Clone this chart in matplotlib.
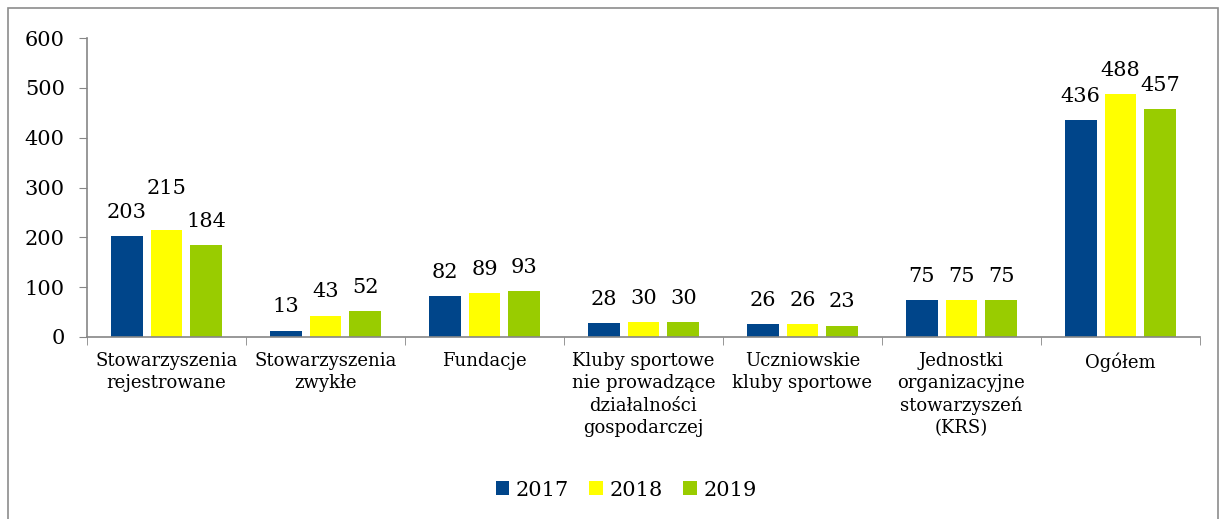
import numpy as np
import matplotlib
matplotlib.use('Agg')
import matplotlib.pyplot as plt
from matplotlib.patches import Rectangle

categories = ['Stowarzyszenia\nrejestrowane', 'Stowarzyszenia\nzwykłe', 'Fundacje',
              'Kluby sportowe\nnie prowadzące\ndziałalności\ngospodarczej',
              'Uczniowskie\nkluby sportowe',
              'Jednostki\norganizacyjne\nstowarzyszeń\n(KRS)', 'Ogółem']
years = ['2017', '2018', '2019']
v2017 = [203, 13, 82, 28, 26, 75, 436]
v2018 = [215, 43, 89, 30, 26, 75, 488]
v2019 = [184, 52, 93, 30, 23, 75, 457]
COLORS = ['#00458A', '#FFFF00', '#99CC00']

plt.rcParams['font.family'] = ['DejaVu Serif']
fig = plt.figure(figsize=(12.26, 5.19), dpi=100)
fig.patches.append(Rectangle((8/1226, -0.1), 1210/1226, 1.1 - 8/519, transform=fig.transFigure,
                             fill=False, edgecolor='#8C8C8C', lw=1.2))
ax = fig.add_axes([87/1226, 1-337/519, (1200-87)/1226, (337-38)/519])

# label raised manually in the original (series, category) -> offset in points
lifted = {(1, 0): 30}

x = np.arange(len(categories))
for i, (vals, c, lb) in enumerate(zip([v2017, v2018, v2019], COLORS, years)):
    pos = x + (i-1)*0.25
    ax.bar(pos, vals, width=0.2, color=c, label=lb, zorder=2)
    for j, (p, v) in enumerate(zip(pos, vals)):
        ax.annotate(str(v), (p, v), xytext=(0, lifted.get((i, j), 17)), textcoords='offset points',
                    ha='center', va='center', fontsize=15)

ax.set_xlim(-0.5, len(categories)-0.5)
ax.set_ylim(0, 600)
ax.set_yticks(range(0, 601, 100))
ax.tick_params(axis='y', labelsize=15, length=6, color='#868686', pad=10)
ax.set_xticks(x)
ax.set_xticklabels(categories, fontsize=13, linespacing=1.3)
ax.tick_params(axis='x', length=0, pad=11)
ax.set_xticks(np.arange(-0.5, len(categories)), minor=True)
ax.tick_params(axis='x', which='minor', length=6, color='#868686')
for s in ['top', 'right']:
    ax.spines[s].set_visible(False)
for s in ['left', 'bottom']:
    ax.spines[s].set_color('#868686')
    ax.spines[s].set_linewidth(1.2)

fig.legend(loc='center', bbox_to_anchor=(626/1226, 1-490/519), ncol=3, frameon=False,
           fontsize=15, handlelength=0.65, handleheight=0.65, handletextpad=0.3, columnspacing=1.0)

fig.savefig('out.png', dpi=100)
